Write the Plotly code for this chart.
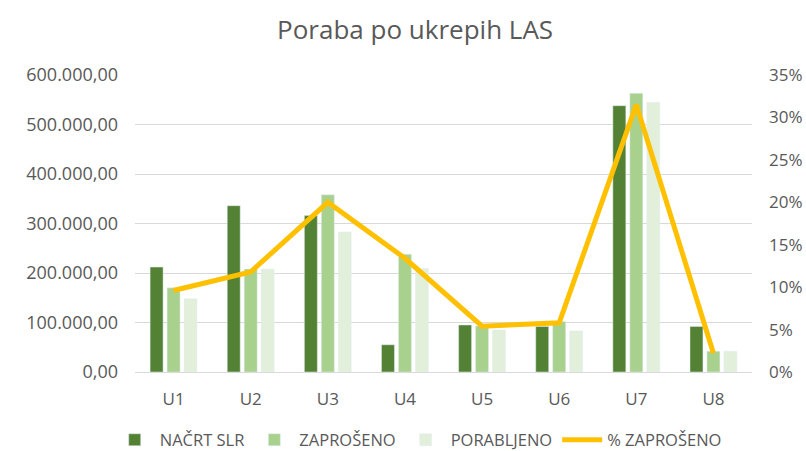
import plotly.graph_objects as go

categories = ["U1", "U2", "U3", "U4", "U5", "U6", "U7", "U8"]
nacrt_slr = [212000, 336000, 316000, 55000, 95000, 92000, 538000, 92000]
zaproseno = [170000, 208000, 358000, 238000, 93000, 102000, 563000, 42000]
porabljeno = [148000, 208000, 283000, 209000, 85000, 83000, 545000, 42000]
pct_zaproseno = [9.6, 11.8, 20.0, 13.4, 5.4, 5.8, 31.5, 2.2]

font_family = "Open Sans, Noto Sans, sans-serif"
grey = "#595959"

fig = go.Figure()
fig.add_trace(go.Bar(x=categories, y=nacrt_slr, name="NAČRT SLR", marker_color="#548235"))
fig.add_trace(go.Bar(x=categories, y=zaproseno, name="ZAPROŠENO", marker_color="#A9D18E"))
fig.add_trace(go.Bar(x=categories, y=porabljeno, name="PORABLJENO", marker_color="#E2EFDA"))
fig.add_trace(go.Scatter(x=categories, y=pct_zaproseno, name="% ZAPROŠENO", mode="lines",
                         line=dict(color="#FFC000", width=5), yaxis="y2"))

fig.update_layout(
    width=806, height=451,
    paper_bgcolor="white", plot_bgcolor="white",
    separators=",.",
    title=dict(text="Poraba po ukrepih LAS", x=0.515, xanchor="center", y=0.933, yanchor="middle",
               font=dict(family=font_family, size=26, color=grey)),
    margin=dict(l=135, r=54, t=75, b=79, autoexpand=False),
    barmode="group", bargap=0.34, bargroupgap=0.235,
    font=dict(family=font_family, size=17, color=grey),
    xaxis=dict(showgrid=False, showline=True, linecolor="#D9D9D9", linewidth=1,
               tickfont=dict(size=17, color=grey), ticks="", ticklabelstandoff=12),
    yaxis=dict(range=[0, 600000], dtick=100000, tickformat=",.2f", showgrid=True,
               gridcolor="#D9D9D9", gridwidth=1, zeroline=False,
               tickfont=dict(size=18, color=grey), ticks="", ticklabelstandoff=16),
    yaxis2=dict(range=[0, 35], dtick=5, ticksuffix="%", overlaying="y", side="right",
                showgrid=False, zeroline=False, tickfont=dict(size=17, color=grey), ticks="",
                ticklabelstandoff=16),
    legend=dict(orientation="h", x=0.459, xanchor="center", y=-0.229, yanchor="middle",
                font=dict(size=16.5, color=grey), traceorder="normal", itemwidth=40),
)

fig.write_html("out.html", config={"displayModeBar": False},
               post_script="document.body.style.margin='0';")
